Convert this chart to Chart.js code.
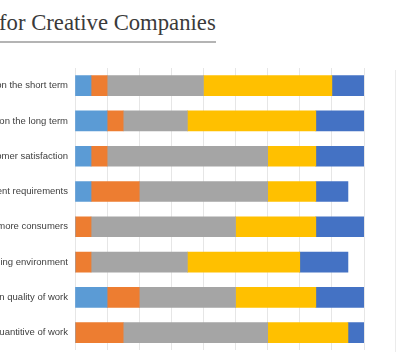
<!DOCTYPE html>
<html>
<head>
<meta charset="utf-8">
<script src="https://cdn.jsdelivr.net/npm/chart.js@4"></script>
<style>
  html,body{margin:0;padding:0;background:#fff;}
  #wrap{position:relative;width:414px;height:363px;overflow:hidden;}
  #title{position:absolute;left:-1px;top:10px;font-family:"Liberation Serif",serif;font-size:22.7px;color:#3a3a3a;white-space:nowrap;}
  #rule{position:absolute;left:0;top:41px;width:216px;height:2px;background:#b4b4b4;}
  #side{position:absolute;left:395px;top:70px;width:1px;height:282px;background:#ebebeb;}
  #box{position:absolute;left:0;top:0;width:414px;height:363px;}
</style>
</head>
<body>
<div id="wrap">
  <div id="title">for Creative Companies</div>
  <div id="rule"></div>
  <div id="side"></div>
  <div id="box"><canvas id="c"></canvas></div>
</div>
<script>
(function () {
  'use strict';

  /* categories (left part of the labels is cropped off in the picture) */
  var labels = [
    'Growth on the short term',
    'Growth on the long term',
    'Customer satisfaction',
    'Client requirements',
    'Reaching more consumers',
    'Changing environment',
    'Improvement in quality of work',
    'Increase in quantitive of work'
  ];

  /* series values, one per category */
  var sBlue   = [1, 2, 1, 1, 0, 0, 2, 0];
  var sOrange = [1, 1, 1, 3, 1, 1, 2, 3];
  var sGray   = [6, 4, 10, 8, 9, 6, 6, 9];
  var sYellow = [8, 8, 3, 3, 5, 7, 5, 5];
  var sDark   = [2, 3, 3, 2, 3, 3, 3, 1];

  var xMax = 18, xStep = 2;

  function ds(name, data, color){
    return { label: name, data: data, backgroundColor: color, borderWidth: 0, barThickness: 20 };
  }

  new Chart(document.getElementById('c'), {
    type: 'bar',
    data: {
      labels: labels,
      datasets: [
        ds('1', sBlue,   '#5B9BD5'),
        ds('2', sOrange, '#ED7D31'),
        ds('3', sGray,   '#A5A5A5'),
        ds('4', sYellow, '#FFC000'),
        ds('5', sDark,   '#4472C4')
      ]
    },
    options: {
      indexAxis: 'y',
      responsive: true, maintainAspectRatio: false,
      animation: false,
      layout: { padding: { top: 68, bottom: 11, left: 0, right: 50 } },
      plugins: { legend: { display: false }, tooltip: { enabled: false } },
      scales: {
        x: {
          stacked: true, min: 0, max: xMax,
          ticks: { display: false, stepSize: xStep },
          grid: { color: '#e6e6e6', drawTicks: false },
          border: { display: false }
        },
        y: {
          stacked: true,
          afterFit: function (s) { s.width = 75; },
          ticks: { color: '#404040', padding: 7, font: { family: 'Liberation Sans', size: 9.5 } },
          grid: { display: false, drawTicks: false },
          border: { display: false }
        }
      }
    }
  });
})();
</script>
</body>
</html>
